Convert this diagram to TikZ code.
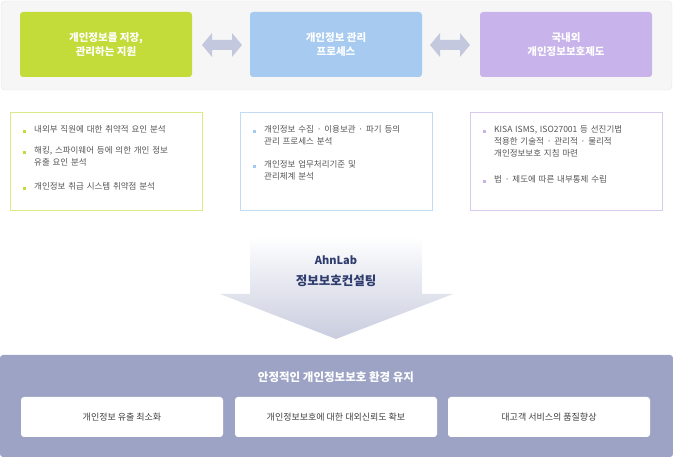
\documentclass[tikz,border=0pt]{standalone}
\usepackage{fontspec}
\setmainfont{Noto Sans CJK KR}
\usetikzlibrary{arrows.meta}
\definecolor{gbox}{HTML}{C3DC3A}
\definecolor{bbox}{HTML}{A7CBF0}
\definecolor{pbox}{HTML}{C8B3EA}
\definecolor{dblarr}{HTML}{C3C8DE}
\definecolor{band}{HTML}{9DA3C4}
\definecolor{navy}{HTML}{2E3D6E}
\definecolor{txt}{HTML}{555555}
\tikzset{
  x=1pt,y=-1pt,
  topbox/.style={rounded corners=3pt,text=white,font=\bfseries\fontsize{10.5}{14}\selectfont,align=center,minimum width=172pt,minimum height=65pt,inner sep=0pt},
  listbox/.style={draw=#1,line width=0.8pt,fill=white,minimum width=192pt,minimum height=98pt,inner sep=0pt},
  item/.style={anchor=north west,text=txt,font=\fontsize{8.5}{12}\selectfont,align=left,text width=165pt,inner sep=0pt},
  bul/.style={fill=#1,minimum size=3pt,inner sep=0pt},
  whitebox/.style={fill=white,rounded corners=3pt,minimum width=202pt,minimum height=40pt,inner sep=0pt,text=black!75,font=\fontsize{9}{11}\selectfont},
}
\begin{document}
\begin{tikzpicture}
\useasboundingbox (0,0) rectangle (673,457);
% top panel
\fill[rounded corners=4pt,fill=gray!7,draw=gray!20] (1,1) rectangle (672,90);
\node[topbox,fill=gbox] (g) at (106,44.5) {개인정보를 저장,\\관리하는 지원};
\node[topbox,fill=bbox] (b) at (336,44.5) {개인정보 관리\\프로세스};
\node[topbox,fill=pbox] (p) at (566,44.5) {국내외\\개인정보보호제도};
% double arrows
\foreach \x in {202,430}{
  \fill[dblarr] (\x,45) -- (\x+10,33) -- (\x+10,40) -- (\x+30,40) -- (\x+30,33) -- (\x+40,45) -- (\x+30,57) -- (\x+30,50) -- (\x+10,50) -- (\x+10,57) -- cycle;
}
% list boxes
\node[listbox=gbox!60] (lg) at (106,161) {};
\node[listbox=bbox!70] (lb) at (336,161) {};
\node[listbox=pbox!70] (lp) at (566,161) {};
% green items
\node[bul=gbox] (bg1) at (24,132) {};
\node[item] (tg1) at (34,125) {내외부 직원에 대한 취약적 요인 분석};
\node[bul=gbox] (bg2) at (24,153) {};
\node[item] (tg2) at (34,146) {해킹, 스파이웨어 등에 의한 개인 정보\\유출 요인 분석};
\node[bul=gbox] (bg3) at (24,189) {};
\node[item] (tg3) at (34,182) {개인정보 취급 시스템 취약점 분석};
% blue items
\node[bul=bbox] (bb1) at (254,132) {};
\node[item] (tb1) at (264,125) {개인정보 수집 · 이용보관 · 파기 등의\\관리 프로세스 분석};
\node[bul=bbox] (bb2) at (254,167) {};
\node[item] (tb2) at (264,160) {개인정보 업무처리기준 및\\관리체계 분석};
% purple items
\node[bul=pbox] (bp1) at (484,132) {};
\node[item] (tp1) at (494,125) {KISA ISMS, ISO27001 등 선진기법\\적용한 기술적 · 관리적 · 물리적\\개인정보보호 지침 마련};
\node[bul=pbox] (bp2) at (484,182) {};
\node[item] (tp2) at (494,175) {법 · 제도에 따른 내부통제 수립};
% big arrow
\shade[top color=white,bottom color=band!55] (250,236) -- (422,236) -- (422,294) -- (453,294) -- (336,339) -- (220,294) -- (250,294) -- cycle;
\node[text=navy,font=\bfseries\fontsize{11}{13}\selectfont] (ahn) at (336,260) {AhnLab};
\node[text=navy,font=\bfseries\fontsize{12.5}{14}\selectfont] (cons) at (336,281) {정보보호컨설팅};
% bottom band
\fill[band,rounded corners=3pt] (0,355) rectangle (673,457);
\node[text=white,font=\bfseries\fontsize{11.5}{13}\selectfont] (title) at (336,377) {안정적인 개인정보보호 환경 유지};
\node[whitebox] (w1) at (122,417) {개인정보 유출 최소화};
\node[whitebox] (w2) at (336,417) {개인정보보호에 대한 대외신뢰도 확보};
\node[whitebox] (w3) at (549,417) {대고객 서비스의 품질향상};
\end{tikzpicture}
\end{document}
